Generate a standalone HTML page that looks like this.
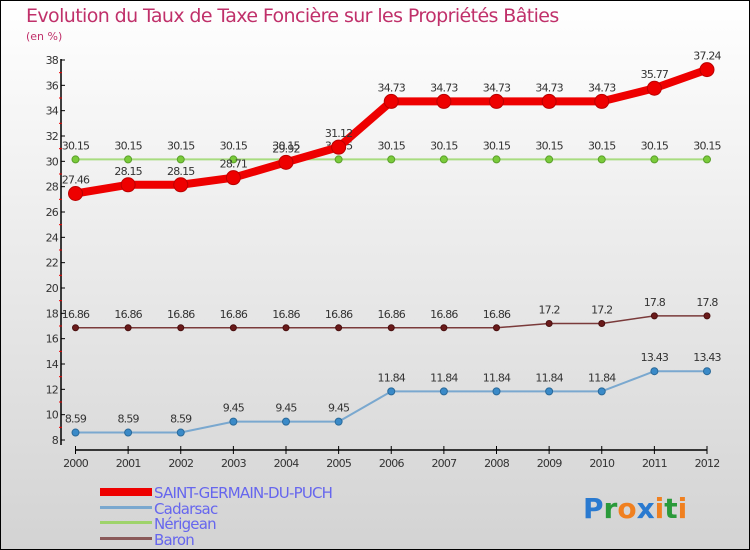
<!DOCTYPE html>
<html><head><meta charset="utf-8"><style>
body{margin:0;width:750px;height:550px;overflow:hidden}
svg{display:block;font-family:"DejaVu Sans","Liberation Sans",sans-serif}
</style></head><body>
<svg id="c" width="750" height="550" xmlns="http://www.w3.org/2000/svg">
<defs><linearGradient id="bg" x1="0" y1="0" x2="0" y2="1"><stop offset="0" stop-color="#ffffff"/><stop offset="1" stop-color="#d3d3d3"/></linearGradient></defs>
<rect x="0.5" y="0.5" width="749" height="549" fill="url(#bg)" stroke="#000"/>
<text x="26" y="22" font-size="19" fill="#c0306a" letter-spacing="-0.6">Evolution du Taux de Taxe Foncière sur les Propriétés Bâties</text>
<text x="26" y="40" font-size="11" fill="#c0306a">(en %)</text>
<g id="axes"></g><g id="series"></g>
<g>
<rect x="100" y="488" width="52" height="8" fill="#e00"/>
<text x="154" y="498" font-size="15" fill="#6666ee" letter-spacing="-0.8">SAINT-GERMAIN-DU-PUCH</text>
<rect x="100" y="506" width="52" height="3" fill="#7aa8cf"/>
<text x="154" y="514" font-size="15" fill="#6666ee" letter-spacing="-0.8">Cadarsac</text>
<rect x="100" y="521" width="52" height="3" fill="#9ed36b"/>
<text x="154" y="529" font-size="15" fill="#6666ee" letter-spacing="-0.8">Nérigean</text>
<rect x="100" y="537" width="52" height="3" fill="#8a5a5a"/>
<text x="154" y="545" font-size="15" fill="#6666ee" letter-spacing="-0.8">Baron</text>
</g>
<text x="583" y="518" font-size="28" font-weight="bold"><tspan fill="#2a7ad0">P</tspan><tspan fill="#2a9a3a">r</tspan><tspan fill="#f08020">o</tspan><tspan fill="#2a7ad0">x</tspan><tspan fill="#f08020">i</tspan><tspan fill="#2a9a3a">t</tspan><tspan fill="#f08020">i</tspan></text>
</svg>
<script>
const years=[2000,2001,2002,2003,2004,2005,2006,2007,2008,2009,2010,2011,2012];
const saintGermain=[27.46,28.15,28.15,28.71,29.92,31.12,34.73,34.73,34.73,34.73,34.73,35.77,37.24];
const cadarsac=[8.59,8.59,8.59,9.45,9.45,9.45,11.84,11.84,11.84,11.84,11.84,13.43,13.43];
const nerigean=[30.15,30.15,30.15,30.15,30.15,30.15,30.15,30.15,30.15,30.15,30.15,30.15,30.15];
const baron=[16.86,16.86,16.86,16.86,16.86,16.86,16.86,16.86,16.86,17.2,17.2,17.8,17.8];
const yTicks=[8,10,12,14,16,18,20,22,24,26,28,30,32,34,36,38];
const NS="http://www.w3.org/2000/svg";
const X=i=>75.5+i*(707-75.5)/12;
const Y=v=>440-(v-8)*(380/30);
function mk(p,t,a){const e=document.createElementNS(NS,t);for(const k in a)e.setAttribute(k,a[k]);p.appendChild(e);return e;}
const ax=document.getElementById('axes');
let l=mk(ax,'line',{x1:61,y1:59,x2:61,y2:445,stroke:'#000','stroke-width':1.5});


l=mk(ax,'line',{x1:75,y1:450,x2:707,y2:450,stroke:'#000','stroke-width':1.5});


yTicks.forEach(v=>{
 mk(ax,'line',{x1:61,y1:Y(v),x2:65,y2:Y(v),stroke:'#000'});
 if(v<38)mk(ax,'line',{x1:59,y1:Y(v+1),x2:62,y2:Y(v+1),stroke:'#e00'});
 const t=mk(ax,'text',{x:58,y:Y(v)+4,'font-size':11,'text-anchor':'end',fill:'#333','letter-spacing':'-0.8'});
 t.textContent=v;
 
 
});
years.forEach((yr,i)=>{
 mk(ax,'line',{x1:X(i),y1:446,x2:X(i),y2:454,stroke:'#000'});
 const t=mk(ax,'text',{x:X(i),y:467,'font-size':11,'text-anchor':'middle',fill:'#333','letter-spacing':'-0.8'});
 t.textContent=yr;
 
 
});
const sg=document.getElementById('series');
function series(name,vals,color,w,r,dot,dotStroke){
 const g=mk(sg,'g',{});
 
 
 const p=mk(g,'polyline',{points:vals.map((v,i)=>X(i)+','+Y(v)).join(' '),fill:'none',stroke:color,'stroke-width':w,'stroke-linejoin':'round'});
 
 
 vals.forEach((v,i)=>{
  const c=mk(g,'circle',{cx:X(i),cy:Y(v),r:r,fill:dot,stroke:dotStroke,'stroke-width':1});
  
  
  const t=mk(g,'text',{x:X(i),y:Y(v)-10,'font-size':11,'text-anchor':'middle',fill:'#333','letter-spacing':'-0.8'});
  t.textContent=v;
  
  
 });
}
series('cadarsac',cadarsac,'#7aa8cf',2,3.5,'#3a8ac8','#2a6a9a');
series('baron',baron,'#7a3a3a',1.5,3,'#6a1a1a','#4a1010');
series('nerigean',nerigean,'#a8dc80',2,3.5,'#7acb3a','#5aa02a');
series('saint-germain',saintGermain,'#ee0000',8,7,'#e00','#b00');
</script>
</body></html>
